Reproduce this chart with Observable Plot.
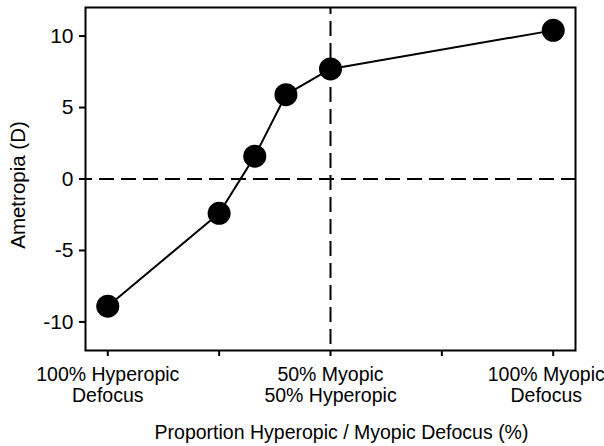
<!DOCTYPE html>
<html>
<head>
<meta charset="utf-8">
<script src="https://cdn.jsdelivr.net/npm/d3@7"></script>
<script src="https://cdn.jsdelivr.net/npm/@observablehq/plot@0.6"></script>
<style>
  body { margin: 0; background: #fff; }
  #chart svg { display: block; }
</style>
</head>
<body>
<div id="chart"></div>
<script>
const proportion = [0, 25, 33, 40, 50, 100];
const ametropia = [-8.9, -2.4, 1.6, 5.9, 7.7, 10.4];
const xTicks = [0, 25, 50, 75, 100];
const xLabelValues = [0, 50, 100];
const xLabels = ["100% Hyperopic\nDefocus", "50% Myopic\n50% Hyperopic", "100% Myopic\nDefocus"];
const yTicks = [-10, -5, 0, 5, 10];
const xTitle = "Proportion Hyperopic / Myopic Defocus (%)";
const yTitle = "Ametropia (D)";

const data = proportion.map((p, i) => ({x: p, y: ametropia[i]}));
const labelData = xLabelValues.map((v, i) => ({v, label: xLabels[i]}));

const fontFamily = "'Liberation Sans', Arial, Helvetica, sans-serif";

const chart = Plot.plot({
  width: 604,
  height: 446,
  marginLeft: 85,
  marginRight: 29,
  marginTop: 7,
  marginBottom: 96,
  style: {fontFamily, fontSize: "19px", color: "#000", background: "#fff"},
  x: {domain: [-5, 105]},
  y: {domain: [-12, 12]},
  marks: [
    Plot.ruleY([0], {stroke: "#000", strokeWidth: 2, strokeDasharray: "15,7", strokeDashoffset: 8}),
    Plot.ruleX([50], {stroke: "#000", strokeWidth: 2, strokeDasharray: "15,7", strokeDashoffset: 8}),
    Plot.axisY({ticks: yTicks, tickSize: 6, tickPadding: 6, strokeWidth: 2, fontSize: 21, tickFormat: d => String(d), label: null}),
    Plot.axisX({ticks: xTicks, tickSize: 6, tickFormat: () => "", strokeWidth: 2, label: null}),
    Plot.text(labelData.slice(0, 2), {x: "v", text: "label", frameAnchor: "bottom", lineAnchor: "top", dy: 16, lineHeight: 1.07, fontSize: 19.5, fill: "#000"}),
    Plot.text(labelData.slice(2), {x: "v", text: "label", frameAnchor: "bottom", lineAnchor: "top", dy: 16, dx: -7, lineHeight: 1.07, fontSize: 19.5, fill: "#000"}),
    Plot.text([xTitle], {frameAnchor: "bottom", lineAnchor: "middle", textAnchor: "middle", dy: 82, dx: 11, fontSize: 19.5, fill: "#000"}),
    Plot.text([yTitle], {frameAnchor: "left", lineAnchor: "middle", textAnchor: "middle", rotate: -90, dx: -67, dy: 6, fontSize: 20.5, fill: "#000"}),
    Plot.frame({stroke: "#000", strokeWidth: 2}),
    Plot.line(data, {x: "x", y: "y", stroke: "#000", strokeWidth: 2}),
    Plot.dot(data, {x: "x", y: "y", r: 11.5, fill: "#000", stroke: "none"})
  ]
});
document.getElementById("chart").appendChild(chart);
</script>
</body>
</html>
